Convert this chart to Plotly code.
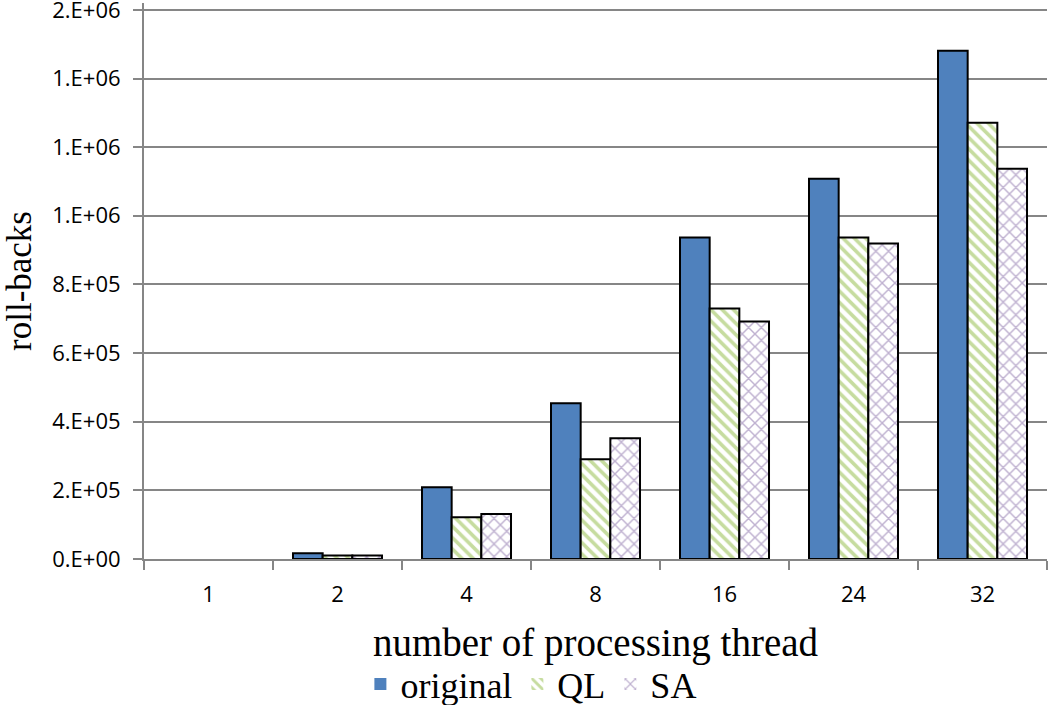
import plotly.graph_objects as go

# data
threads = ["1", "2", "4", "8", "16", "24", "32"]
original = [0, 17000, 209000, 454000, 937000, 1108000, 1481000]
ql = [0, 10000, 122000, 291000, 730000, 937000, 1271000]
sa = [0, 10000, 131000, 352000, 692000, 919000, 1137000]

y_ticks = [0, 2e5, 4e5, 6e5, 8e5, 1.0e6, 1.2e6, 1.4e6, 1.6e6]
y_labels = ["0.E+00", "2.E+05", "4.E+05", "6.E+05", "8.E+05",
            "1.E+06", "1.E+06", "1.E+06", "2.E+06"]

# no outline where the bar is empty
def outline(vals):
    return dict(color="black", width=[2 if v else 0 for v in vals])

fig = go.Figure()
fig.add_trace(go.Bar(x=threads, y=original, name="original",
                     marker=dict(color="#4F81BD", line=outline(original))))
fig.add_trace(go.Bar(x=threads, y=ql, name="QL",
                     marker=dict(color="white", line=outline(ql),
                                 pattern=dict(shape="\\", fgcolor="#8DB93F",
                                              bgcolor="white", size=8,
                                              solidity=0.45))))
fig.add_trace(go.Bar(x=threads, y=sa, name="SA",
                     marker=dict(color="white", line=outline(sa),
                                 pattern=dict(shape="x", fgcolor="#8064A2",
                                              bgcolor="white", size=9,
                                              solidity=0.3))))

fig.update_layout(
    width=1050, height=705,
    margin=dict(l=144, r=3, t=3, b=146, autoexpand=False),
    plot_bgcolor="white", paper_bgcolor="white",
    barmode="group", bargap=0.31, bargroupgap=0,
    xaxis=dict(
        automargin=False,
        showline=True, linecolor="#868686", linewidth=2,
        ticks="outside", tickson="boundaries", ticklen=9,
        tickcolor="#868686", tickwidth=2, ticklabelstandoff=15,
        tickfont=dict(family="Open Sans", size=22, color="black"),
        title=dict(text="number of processing thread", standoff=21,
                   font=dict(family="Liberation Serif", size=39, color="black")),
    ),
    yaxis=dict(
        automargin=False,
        range=[0, 1.62e6], tickvals=y_ticks, ticktext=y_labels,
        showline=True, linecolor="#868686", linewidth=2,
        ticks="outside", ticklen=9, tickcolor="#868686", tickwidth=2,
        ticklabelstandoff=8, ticklabeloverflow="allow",
        showgrid=True, gridcolor="#868686", gridwidth=2, zeroline=False,
        tickfont=dict(family="Open Sans", size=22, color="black"),
        title=dict(text="roll-backs", standoff=10,
                   font=dict(family="Liberation Serif", size=35, color="black")),
    ),
    legend=dict(orientation="h", x=0.429, xanchor="center", y=-0.225, yanchor="middle",
                font=dict(family="Liberation Serif", size=36, color="black"),
                itemwidth=30, tracegroupgap=0),
)

# the page's default body margin would shift the chart by 8px
fig.write_html("out.html", config={"displayModeBar": False},
               post_script="document.body.style.margin='0';")
